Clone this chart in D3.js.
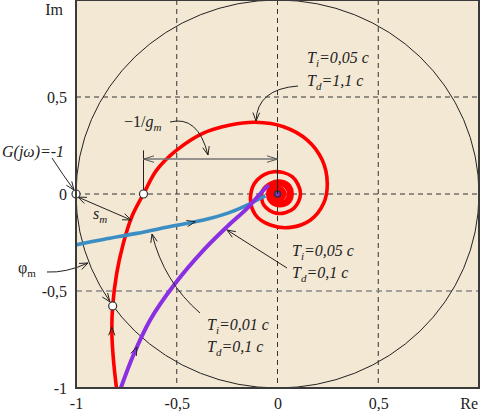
<!DOCTYPE html>
<html><head><meta charset="utf-8">
<script src="https://cdn.jsdelivr.net/npm/d3@7"></script>
<style>body{margin:0;background:#fff}svg{display:block}
svg text{font-family:"Liberation Serif","Times New Roman",Times,"DejaVu Serif",serif;}</style>
</head><body>
<svg id="c" width="480" height="413"></svg>
<script>
// ---- data (Re, Im) ----
const redCurve = [[-0.798,-1.01],[-0.814,-0.856],[-0.822,-0.718],[-0.818,-0.577],[-0.798,-0.409],[-0.765,-0.254],[-0.723,-0.117],[-0.665,0],[-0.599,0.124],[-0.499,0.227],[-0.368,0.314],[-0.234,0.356],[-0.109,0.37],[0.030,0.347],[0.148,0.278],[0.222,0.175],[0.247,0.055],[0.229,-0.048],[0.164,-0.134],[0.065,-0.172],[-0.035,-0.16],[-0.109,-0.108],[-0.134,-0.014],[-0.101,0.072],[-0.018,0.115],[0.073,0.089],[0.114,0.003],[0.081,-0.074],[-0.002,-0.1],[-0.068,-0.057],[-0.076,0.012],[-0.035,0.055],
 [0.02,0.065],[0.062,0.04],[0.072,-0.005],[0.055,-0.045],[0.012,-0.06],[-0.03,-0.045],[-0.048,-0.005],[-0.035,0.035],[0.0,0.05],[0.04,0.038],[0.055,0.0],[0.04,-0.035],[0.005,-0.045],[-0.025,-0.028],[-0.032,0.005],[-0.015,0.03],[0.012,0.033],[0.032,0.015],[0.033,-0.012],[0.015,-0.028],[-0.008,-0.022],[-0.018,0.0],[-0.006,0.018],[0.012,0.016],[0.018,0],[0.008,-0.012],[0,0]];
const blueCurve = [[-1.005,-0.263],[-0.864,-0.234],[-0.698,-0.203],[-0.532,-0.168],[-0.367,-0.134],[-0.25,-0.1],[-0.151,-0.057],[-0.1,-0.03],[-0.06,-0.01]];
const purpleCurve = [[-0.781,-1.01],[-0.715,-0.83],[-0.632,-0.649],[-0.507,-0.46],[-0.367,-0.289],[-0.25,-0.168],[-0.151,-0.074],[-0.068,0.021],[-0.043,0.046]];
const markPoints = [[-1,0],[-0.665,0],[-0.818,-0.577]];
const xTicks = [-1,-0.5,0,0.5];
const xTickLabels = ["-1","-0,5","0","0,5"];
const yTicks = [-1,-0.5,0,0.5];
const yTickLabels = ["-1","-0,5","0","0,5"];

const svg = d3.select("#c");
const x = d3.scaleLinear([-1,1],[76,479]);
const y = d3.scaleLinear([-1,1],[388,0]);

svg.append("defs").append("clipPath").attr("id","clip")
  .append("rect").attr("x",76).attr("y",0).attr("width",403).attr("height",388);

svg.append("rect").attr("x",76).attr("y",0).attr("width",403).attr("height",388).attr("fill","#f3e8d4");

// grid
const grid = svg.append("g");
[-0.5,0,0.5].forEach(v=>{
  grid.append("line").attr("x1",x(v)).attr("x2",x(v)).attr("y1",0).attr("y2",388)
    .attr("stroke","#333").attr("stroke-dasharray","5,4");
});
[0.5,0].forEach(v=>{
  grid.append("line").attr("x1",76).attr("x2",479).attr("y1",y(v)).attr("y2",y(v))
    .attr("stroke","#333").attr("stroke-dasharray","5,4");
});
grid.append("line").attr("x1",76).attr("x2",479).attr("y1",y(-0.5)).attr("y2",y(-0.5))
    .attr("stroke","#888").attr("stroke-width",1.3).attr("stroke-dasharray","6,4");

// unit circle
svg.append("ellipse").attr("cx",x(0)).attr("cy",y(0)).attr("rx",x(1)-x(0)).attr("ry",y(0)-y(1))
  .attr("fill","none").attr("stroke","#222").attr("stroke-width",1).attr("clip-path","url(#clip)");

const line = d3.line().x(d=>x(d[0])).y(d=>y(d[1])).curve(d3.curveCatmullRom.alpha(0.5));
const plot = svg.append("g").attr("clip-path","url(#clip)");
const redP = plot.append("path").attr("d",line(redCurve)).attr("fill","none").attr("stroke","#ff0000").attr("stroke-width",3.6);
const blueP = plot.append("path").attr("d",line(blueCurve)).attr("fill","none").attr("stroke","#3a8ec4").attr("stroke-width",3.6);
const purP = plot.append("path").attr("d",line(purpleCurve)).attr("fill","none").attr("stroke","#8a30e2").attr("stroke-width",4);

plot.append("circle").attr("cx",x(0)).attr("cy",y(0)).attr("r",3).attr("fill","#8a30e2").attr("stroke","#333").attr("stroke-width",1.5);

// arrowhead helper (open V)
const ann = svg.append("g").attr("fill","none").attr("stroke","#222").attr("stroke-width",1);
function head(px,py,ang,len=9,spread=0.38,col="#222"){
  [ang+Math.PI-spread, ang+Math.PI+spread].forEach(a=>{
    ann.append("line").attr("x1",px).attr("y1",py)
      .attr("x2",px+len*Math.cos(a)).attr("y2",py+len*Math.sin(a)).attr("stroke",col);
  });
}
function onPath(path, frac){
  const n = path.node(), L = n.getTotalLength();
  const p = n.getPointAtLength(L*frac), q = n.getPointAtLength(L*frac+2);
  head(p.x,p.y,Math.atan2(q.y-p.y,q.x-p.x),9,0.35);
}
onPath(redP, 0.07);
onPath(blueP, 0.62);
onPath(purP, 0.18);

function curveArrow(p0,c,p2){
  const P0=[x(p0[0]),y(p0[1])], C=[x(c[0]),y(c[1])], P2=[x(p2[0]),y(p2[1])];
  ann.append("path").attr("d",`M${P0}Q${C} ${P2}`);
  head(P2[0],P2[1],Math.atan2(P2[1]-C[1],P2[0]-C[0]));
}
const px2 = v => (v-277.5)/201.5, py2 = v => (194-v)/194;
const P = (a,b)=>[px2(a),py2(b)];
curveArrow(P(298,86),P(257,89),P(256,121));
curveArrow(P(170,122),P(198,115),P(208,155));
curveArrow(P(287,268),P(257,249),P(227,230));
curveArrow(P(200,313),P(164,282),P(152,234));
curveArrow(P(47,272),P(66,273),P(88,263));
curveArrow(P(52,158),P(63,175),P(74,190));
{
  const A=[x(-0.99),y(-0.016)], B=[x(-0.727),y(-0.134)];
  ann.append("line").attr("x1",A[0]).attr("y1",A[1]).attr("x2",B[0]).attr("y2",B[1]);
  const a=Math.atan2(B[1]-A[1],B[0]-A[0]);
  head(B[0],B[1],a); head(A[0],A[1],a+Math.PI);
}
{
  const th = Math.atan2(-0.577,-0.818);
  const px=x(Math.cos(th)), py=y(Math.sin(th));
  const dx = -Math.sin(th)*(x(1)-x(0)), dy = -Math.cos(th)*(y(0)-y(1));
  head(px-5*dx/Math.hypot(dx,dy), py-5*dy/Math.hypot(dx,dy), Math.atan2(dy,dx));
}
{
  const yd=y(0.18);
  ann.append("line").attr("x1",x(-0.665)).attr("x2",x(-0.665)).attr("y1",y(0.225)).attr("y2",y(0)).attr("stroke","#222");
  ann.append("line").attr("x1",x(0)).attr("x2",x(0)).attr("y1",y(0.225)).attr("y2",y(0)).attr("stroke","#222");
  ann.append("line").attr("x1",x(-0.665)).attr("x2",x(0)).attr("y1",yd).attr("y2",yd).attr("stroke","#777").attr("stroke-width",1.5);
  head(x(0),yd,0,11,0.3,"#555"); head(x(-0.665),yd,Math.PI,11,0.3,"#555");
}

svg.selectAll("circle.m").data(markPoints).join("circle").attr("class","m")
  .attr("cx",d=>x(d[0])).attr("cy",d=>y(d[1])).attr("r",4)
  .attr("fill","#fff").attr("stroke","#333").attr("stroke-width",1.2);

svg.append("rect").attr("x",76).attr("y",0).attr("width",403).attr("height",388)
  .attr("fill","none").attr("stroke","#3a3a3a").attr("stroke-width",2);

const ax = svg.append("g").attr("transform","translate(0,388)")
  .call(d3.axisBottom(x).tickValues(xTicks).tickFormat((d,i)=>xTickLabels[i]).tickSize(0).tickPadding(10));
const ay = svg.append("g").attr("transform","translate(76,0)")
  .call(d3.axisLeft(y).tickValues(yTicks).tickFormat((d,i)=>yTickLabels[i]).tickSize(0).tickPadding(9));
[ax,ay].forEach(g=>{g.select(".domain").remove(); g.attr("font-family",null).attr("font-size",null);
  g.selectAll("text").attr("font-size",16).attr("fill","#222");});
svg.append("text").attr("x",63).attr("y",15).attr("text-anchor","end").attr("font-size",16).attr("fill","#222").text("Im");
svg.append("text").attr("x",478).attr("y",409).attr("text-anchor","end").attr("font-size",16).attr("fill","#222").text("Re");

function label(px,py,main,sub,rest){
  const t = svg.append("text").attr("x",px).attr("y",py)
    .attr("font-size",16).attr("fill","#222").attr("font-style","italic");
  t.append("tspan").text(main);
  if(sub){ t.append("tspan").attr("font-size",11).attr("dy",4).text(sub);
    t.append("tspan").attr("dy",-4).text(rest); }
  return t;
}
label(307,63,"T","i","=0,05 c");
label(307,86,"T","d","=1,1 c");
label(292,256,"T","i","=0,05 c");
label(292,278,"T","d","=0,1 c");
label(207,330,"T","i","=0,01 c");
label(207,352,"T","d","=0,1 c");
label(2,157,"G(jω)=-1");
label(93,219,"s","m","");
label(18,273,"φ","m","").attr("font-style","normal");
{
  const t = svg.append("text").attr("x",124).attr("y",127).attr("font-size",16).attr("fill","#222");
  t.append("tspan").text("−1/");
  t.append("tspan").attr("font-style","italic").text("g");
  t.append("tspan").attr("font-style","italic").attr("font-size",11).attr("dy",4).text("m");
}
</script>
</body></html>
